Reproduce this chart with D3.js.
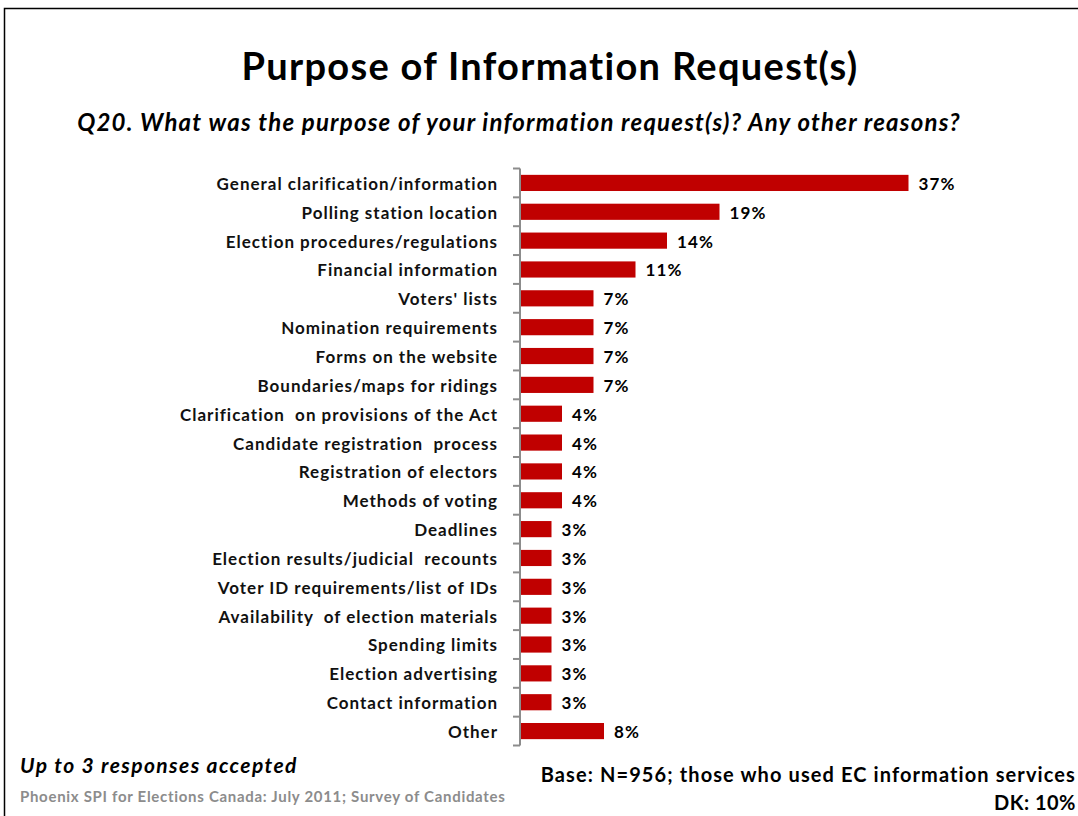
<!DOCTYPE html>
<html>
<head>
<meta charset="utf-8">
<script src="https://cdn.jsdelivr.net/npm/d3@7"></script>
<style>
  html, body { margin: 0; padding: 0; background: #fff; }
  svg { display: block; }
  text { font-family: Lato, "Open Sans", sans-serif; }
</style>
</head>
<body>
<svg id="chart" width="1078" height="816"></svg>
<script>
// Response categories, top to bottom
const categories = [
  "General clarification/information",
  "Polling station location",
  "Election procedures/regulations",
  "Financial information",
  "Voters' lists",
  "Nomination requirements",
  "Forms on the website",
  "Boundaries/maps for ridings",
  "Clarification  on provisions of the Act",
  "Candidate registration  process",
  "Registration of electors",
  "Methods of voting",
  "Deadlines",
  "Election results/judicial  recounts",
  "Voter ID requirements/list of IDs",
  "Availability  of election materials",
  "Spending limits",
  "Election advertising",
  "Contact information",
  "Other"
];

// Share of respondents (%)
const values = [37, 19, 14, 11, 7, 7, 7, 7, 4, 4, 4, 4, 3, 3, 3, 3, 3, 3, 3, 8];

const titleText = "Purpose of Information Request(s)";
const questionText = "Q20. What was the purpose of your information request(s)? Any other reasons?";
const noteText = "Up to 3 responses accepted";
const sourceText = "Phoenix SPI for Elections Canada: July 2011; Survey of Candidates";
const baseText = "Base: N=956; those who used EC information services";
const dkText = "DK: 10%";

const data = categories.map((c, i) => ({ category: c, value: values[i] }));

const svg = d3.select("#chart");

// Outer frame
svg.append("rect")
  .attr("x", 4.5).attr("y", 8.5)
  .attr("width", 1100).attr("height", 900)
  .attr("fill", "none").attr("stroke", "#000").attr("stroke-width", 1.5);

const axisX = 520;
const x = d3.scaleLinear().domain([0, 40]).range([axisX, axisX + 420]);
const y = d3.scaleBand()
  .domain(categories)
  .range([168.5, 745.5])
  .paddingInner(0.44)
  .paddingOuter(0.22);

// Title and question
svg.append("text")
  .attr("x", 550).attr("y", 80)
  .attr("text-anchor", "middle")
  .attr("font-size", 38).attr("font-weight", 700)
  .attr("letter-spacing", 1.3)
  .attr("fill", "#000")
  .text(titleText);

svg.append("text")
  .attr("x", 519).attr("y", 131)
  .attr("text-anchor", "middle")
  .attr("font-size", 24).attr("font-weight", 700).attr("font-style", "italic")
  .attr("letter-spacing", 1.2)
  .attr("fill", "#000")
  .text(questionText);

// Bars
svg.append("g")
  .selectAll("rect")
  .data(data)
  .join("rect")
  .attr("x", x(0))
  .attr("y", d => y(d.category))
  .attr("width", d => x(d.value) - x(0))
  .attr("height", y.bandwidth())
  .attr("fill", "#C00000");

// Value labels
svg.append("g")
  .selectAll("text")
  .data(data)
  .join("text")
  .attr("x", d => x(d.value) + 10)
  .attr("y", d => y(d.category) + y.bandwidth() / 2 + 1)
  .attr("dy", "0.35em")
  .attr("font-size", 17).attr("font-weight", 700)
  .attr("letter-spacing", 1.2)
  .attr("fill", "#000")
  .text(d => d.value + "%");

// Category axis with ticks between bands
const axisG = svg.append("g");
const step = y.step();
const boundaries = d3.range(categories.length + 1).map(i => 168.5 + i * step);
axisG.append("line")
  .attr("x1", axisX).attr("x2", axisX)
  .attr("y1", boundaries[0]).attr("y2", boundaries[boundaries.length - 1])
  .attr("stroke", "#8c8c8c").attr("stroke-width", 2);
axisG.selectAll("line.tick")
  .data(boundaries)
  .join("line")
  .attr("class", "tick")
  .attr("x1", axisX - 7).attr("x2", axisX)
  .attr("y1", d => d).attr("y2", d => d)
  .attr("stroke", "#8c8c8c").attr("stroke-width", 2);

// Category labels
svg.append("g")
  .selectAll("text")
  .data(data)
  .join("text")
  .attr("x", 498)
  .attr("y", d => y(d.category) + y.bandwidth() / 2 + 1)
  .attr("dy", "0.35em")
  .attr("text-anchor", "end")
  .attr("font-size", 17).attr("font-weight", 700)
  .attr("letter-spacing", 1.0)
  .attr("fill", "#111")
  .style("white-space", "pre")
  .text(d => d.category);

// Footer notes
svg.append("text")
  .attr("x", 20).attr("y", 773)
  .attr("font-size", 21).attr("font-weight", 700).attr("font-style", "italic")
  .attr("letter-spacing", 1.4)
  .attr("fill", "#000")
  .text(noteText);

svg.append("text")
  .attr("x", 20).attr("y", 802)
  .attr("font-size", 15).attr("font-weight", 700)
  .attr("letter-spacing", 0.7)
  .attr("fill", "#8c8c8c")
  .text(sourceText);

svg.append("text")
  .attr("x", 1076).attr("y", 782)
  .attr("text-anchor", "end")
  .attr("font-size", 20).attr("font-weight", 700)
  .attr("letter-spacing", 1.1)
  .attr("fill", "#000")
  .text(baseText);

svg.append("text")
  .attr("x", 1076).attr("y", 810)
  .attr("text-anchor", "end")
  .attr("font-size", 20).attr("font-weight", 700)
  .attr("letter-spacing", 0.5)
  .attr("fill", "#000")
  .text(dkText);
</script>
</body>
</html>
